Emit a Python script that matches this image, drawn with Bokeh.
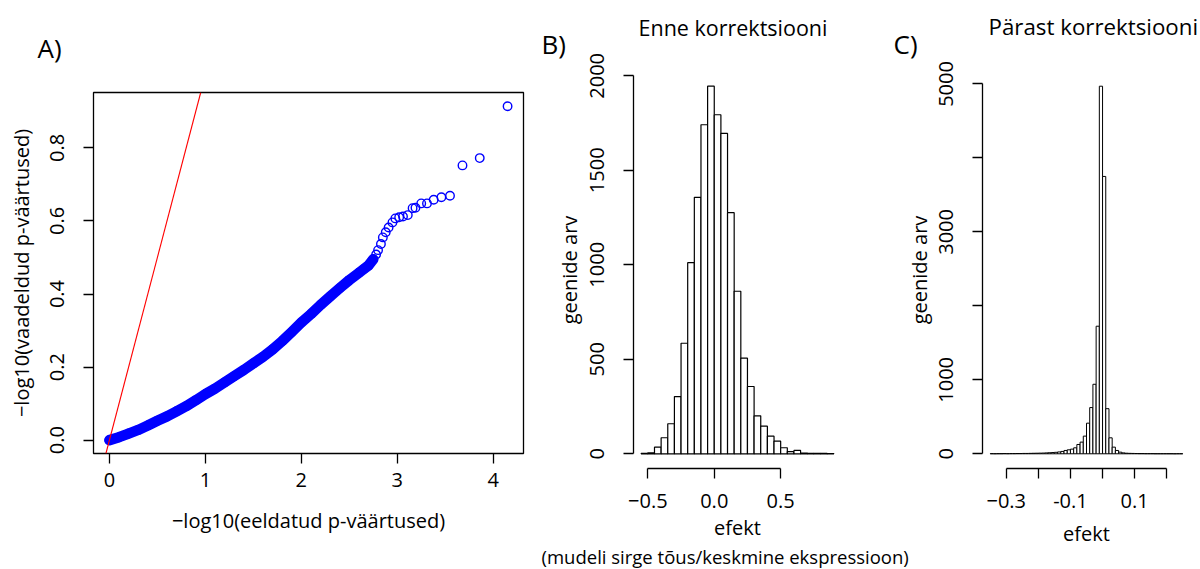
from bokeh.plotting import figure
from bokeh.layouts import row
from bokeh.models import Range1d, FixedTicker, Slope, Title
from bokeh.embed import file_html
from bokeh.resources import INLINE

FONT = "Open Sans"

# ---------------- data ----------------
# Panel A: QQ plot (expected vs observed -log10 p)
qq_expected = [0.0, 0.1, 0.2, 0.3, 0.4, 0.5, 0.6, 0.7, 0.8, 0.9, 1.0, 1.1, 1.2, 1.3, 1.4,
               1.5, 1.6, 1.7, 1.8, 1.9, 2.0, 2.1, 2.2, 2.3, 2.4, 2.5, 2.6, 2.65, 2.7, 2.75,
               2.78, 2.8, 2.83, 2.85, 2.88, 2.91, 2.95, 2.98, 3.02, 3.06, 3.11, 3.16, 3.19,
               3.25, 3.31, 3.38, 3.46, 3.55, 3.68, 3.86, 4.15]
qq_observed = [0.0, 0.008, 0.018, 0.028, 0.040, 0.053, 0.065, 0.079, 0.093, 0.109, 0.126,
               0.141, 0.158, 0.175, 0.192, 0.210, 0.228, 0.248, 0.271, 0.296, 0.322, 0.345,
               0.370, 0.393, 0.416, 0.438, 0.458, 0.468, 0.478, 0.495, 0.508, 0.520, 0.537,
               0.555, 0.569, 0.582, 0.596, 0.607, 0.610, 0.612, 0.616, 0.635, 0.636, 0.648,
               0.648, 0.658, 0.665, 0.669, 0.752, 0.772, 0.914]
qq_dense_count = 30          # the first points overlap into a solid band
qq_ref_slope = 1.0
qq_ref_intercept = 0.0
a_xticks = [0, 1, 2, 3, 4]
a_yticks = [0.0, 0.2, 0.4, 0.6, 0.8]
a_ytick_labels = ["0.0", "0.2", "0.4", "0.6", "0.8"]

# Panel B: histogram before correction
b_edges = [-0.55, -0.5, -0.45, -0.4, -0.35, -0.3, -0.25, -0.2, -0.15, -0.1, -0.05, 0.0,
           0.05, 0.1, 0.15, 0.2, 0.25, 0.3, 0.35, 0.4, 0.45, 0.5, 0.55, 0.6, 0.65, 0.7,
           0.75, 0.8, 0.85, 0.9]
b_counts = [3, 5, 35, 85, 159, 303, 585, 1011, 1357, 1741, 1945, 1794, 1695, 1276, 860,
            506, 356, 201, 146, 93, 67, 32, 12, 18, 4, 3, 2, 2, 1]
b_xticks = [-0.5, 0.0, 0.5]
b_xtick_labels = ["\u22120.5", "0.0", "0.5"]
b_yticks = [0, 500, 1000, 1500, 2000]

# Panel C: histogram after correction
c_edges = [-0.35, -0.34, -0.33, -0.32, -0.31, -0.30, -0.29, -0.28, -0.27, -0.26, -0.25,
           -0.24, -0.23, -0.22, -0.21, -0.20, -0.19, -0.18, -0.17, -0.16, -0.15, -0.14,
           -0.13, -0.12, -0.11, -0.10, -0.09, -0.08, -0.07, -0.06, -0.05, -0.04, -0.03,
           -0.02, -0.01, 0.0, 0.01, 0.02, 0.03, 0.04, 0.05, 0.06, 0.07, 0.08, 0.09, 0.10,
           0.11, 0.12, 0.13, 0.14, 0.15, 0.16, 0.17, 0.18, 0.19, 0.20, 0.21, 0.22, 0.23,
           0.24, 0.25]
c_counts = [2, 1, 2, 2, 3, 2, 3, 3, 4, 4, 5, 5, 6, 7, 8, 9, 10, 12, 14, 17, 20, 25, 32,
            45, 54, 63, 81, 126, 158, 239, 414, 625, 940, 1725, 4970,
            3750, 610, 216, 90, 45, 22, 12, 8, 6, 5, 4, 3, 3, 2, 2, 2, 1, 1, 1, 1, 1, 1, 0, 1, 1]
c_xticks = [-0.3, -0.2, -0.1, 0.0, 0.1, 0.2]
c_xtick_labels = ["\u22120.3", "", "-0.1", "", "0.1", ""]
c_yticks = [0, 1000, 2000, 3000, 4000, 5000]
c_ytick_labels = ["0", "1000", "", "3000", "", "5000"]


def no_frame_align(p):
    try:
        p.frame_align = False
    except Exception:
        pass


def style_axes(p, xstandoff, ystandoff, xlab_standoff, ylab_standoff):
    for ax in (p.xaxis[0], p.yaxis[0]):
        ax.major_tick_in = 0
        ax.major_tick_out = 10
        ax.minor_tick_line_color = None
        ax.axis_line_width = 1.3
        ax.axis_line_color = "black"
        ax.major_tick_line_width = 1.3
        ax.major_tick_line_color = "black"
        ax.major_label_text_font = FONT
        ax.major_label_text_font_size = "20px"
        ax.major_label_text_color = "black"
        ax.axis_label_text_font = FONT
        ax.axis_label_text_font_size = "20px"
        ax.axis_label_text_font_style = "normal"
        ax.axis_label_text_color = "black"
    p.xaxis[0].major_label_standoff = int(xstandoff)
    p.yaxis[0].major_label_standoff = int(ystandoff)
    p.xaxis[0].axis_label_standoff = int(xlab_standoff)
    p.yaxis[0].axis_label_standoff = int(ylab_standoff)
    p.yaxis[0].major_label_orientation = "vertical"
    p.grid.visible = False


def style_title(t, text, offset, standoff, size):
    t.text = text
    t.align = "left"
    t.offset = offset
    t.standoff = standoff
    t.text_font = FONT
    t.text_font_size = size
    t.text_font_style = "normal"
    t.text_color = "black"


def panel_letter(text, offset, standoff):
    return Title(text=text, align="left", offset=offset, standoff=standoff,
                 text_font=FONT, text_font_size="26px", text_font_style="normal",
                 text_color="black")


# ---------------- Panel A ----------------
pA = figure(width=535, height=569, output_backend="svg", toolbar_location=None,
            x_range=Range1d(-0.166, 4.316), y_range=Range1d(-0.0366, 0.9516),
            min_border_left=93, min_border_right=12, min_border_top=92, min_border_bottom=116)
no_frame_align(pA)
style_axes(pA, 9, 19, 17, 13)
pA.outline_line_color = "black"
pA.outline_line_width = 1.3
pA.outline_line_alpha = 1
pA.xaxis[0].axis_line_color = None
pA.yaxis[0].axis_line_color = None
pA.xaxis[0].ticker = FixedTicker(ticks=a_xticks)
pA.yaxis[0].ticker = FixedTicker(ticks=a_yticks)
pA.yaxis[0].major_label_overrides = {t: l for t, l in zip(a_yticks, a_ytick_labels)}
pA.xaxis[0].axis_label = "\u2212log10(eeldatud p-v\u00e4\u00e4rtused)"
pA.yaxis[0].axis_label = "\u2212log10(vaadeldud p-v\u00e4\u00e4rtused)"
style_title(pA.title, "A)", -56, 53, "26px")

pA.line(qq_expected[:qq_dense_count], qq_observed[:qq_dense_count], line_width=10.5,
        line_color="#0000FF", line_cap="round", line_join="round")
pA.scatter(qq_expected, qq_observed, marker="circle", size=8.5, fill_color=None,
           line_color="#0000FF", line_width=1.4)
pA.add_layout(Slope(gradient=qq_ref_slope, y_intercept=qq_ref_intercept,
                    line_color="#FF0000", line_width=1.1))

# ---------------- Panel B ----------------
pB = figure(width=380, height=569, output_backend="svg", toolbar_location=None,
            x_range=Range1d(-0.608, 0.958), y_range=Range1d(-77.8, 2022.8),
            min_border_left=98, min_border_right=74, min_border_top=71, min_border_bottom=101)
no_frame_align(pB)
style_axes(pB, 15, 19, 3, 5)
pB.outline_line_color = None
pB.xaxis[0].ticker = FixedTicker(ticks=b_xticks)
pB.xaxis[0].major_label_overrides = {t: l for t, l in zip(b_xticks, b_xtick_labels)}
pB.xaxis[0].bounds = (b_xticks[0], b_xticks[-1])
pB.yaxis[0].ticker = FixedTicker(ticks=b_yticks)
pB.yaxis[0].bounds = (b_yticks[0], b_yticks[-1])
pB.xaxis[0].axis_label = "efekt"
pB.yaxis[0].axis_label = "geenide arv"
style_title(pB.title, "Enne korrektsiooni", 5, -56, "21.5px")
pB.add_layout(panel_letter("B)", -92, 20), "above")
pB.add_layout(Title(text="(mudeli sirge t\u00f5us/keskmine ekspressioon)", align="left",
                    text_font=FONT, text_font_size="18.5px", text_font_style="normal",
                    text_color="black", standoff=-4, offset=-92), "below")
pB.quad(left=b_edges[:-1], right=b_edges[1:], bottom=0, top=b_counts,
        fill_color="white", line_color="black", line_width=1.2)

# ---------------- Panel C ----------------
pC = figure(width=320, height=569, output_backend="svg", toolbar_location=None,
            x_range=Range1d(-0.374, 0.274), y_range=Range1d(-198.8, 5168.8),
            min_border_left=102, min_border_right=10, min_border_top=71, min_border_bottom=101)
no_frame_align(pC)
style_axes(pC, 15, 19, 9, 4)
pC.outline_line_color = None
pC.border_fill_alpha = 0
pC.margin = (0, 0, 0, -35)
pC.xaxis[0].ticker = FixedTicker(ticks=c_xticks)
pC.xaxis[0].major_label_overrides = {t: l for t, l in zip(c_xticks, c_xtick_labels)}
pC.xaxis[0].bounds = (c_xticks[0], c_xticks[-1])
pC.yaxis[0].ticker = FixedTicker(ticks=c_yticks)
pC.yaxis[0].major_label_overrides = {t: l for t, l in zip(c_yticks, c_ytick_labels)}
pC.yaxis[0].bounds = (c_yticks[0], c_yticks[-1])
pC.xaxis[0].axis_label = "efekt"
pC.yaxis[0].axis_label = "geenide arv"
style_title(pC.title, "P\u00e4rast korrektsiooni", 6, -56, "22.3px")
pC.add_layout(panel_letter("C)", -89, 20), "above")
pC.quad(left=c_edges[:-1], right=c_edges[1:], bottom=0, top=c_counts,
        fill_color="white", line_color="black", line_width=1.0)

layout = row(pA, pB, pC)
open("out.html", "w").write(file_html(layout, INLINE))
